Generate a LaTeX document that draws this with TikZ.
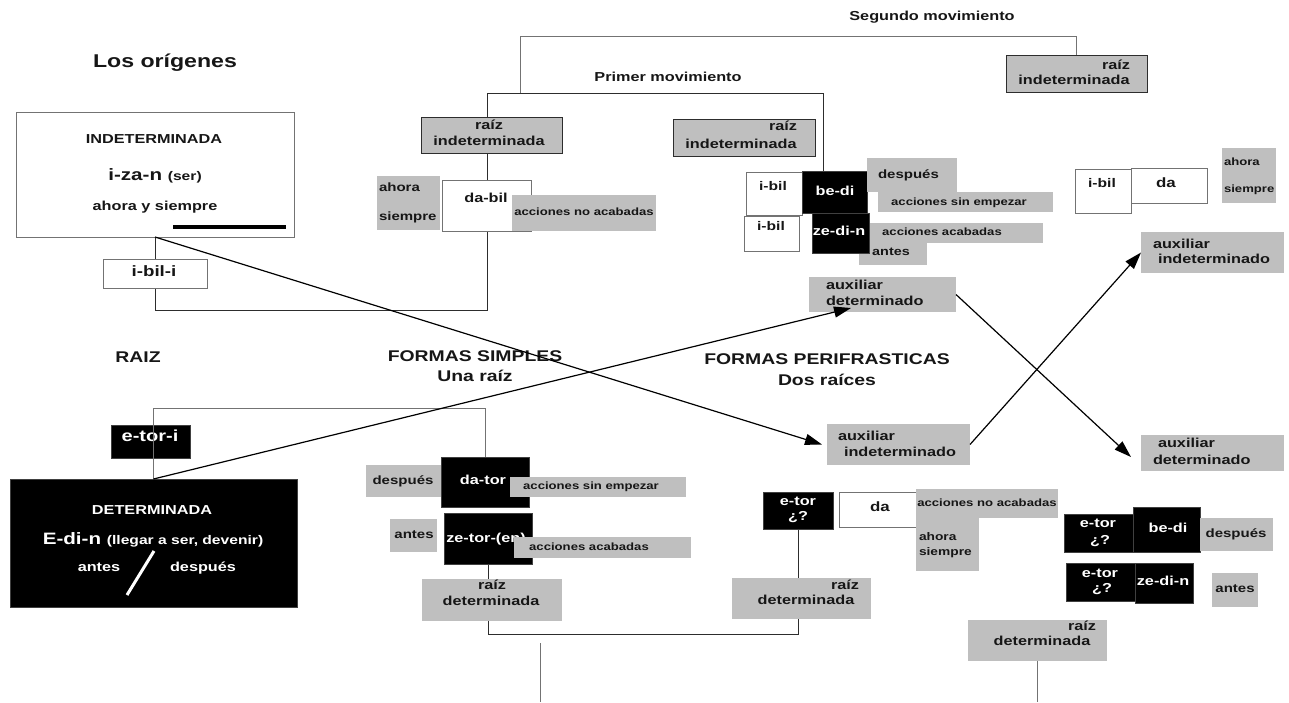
\documentclass[tikz,border=0pt]{standalone}
\usepackage{fontspec}
\setmainfont{Liberation Sans}[FakeStretch=1.25]
\usetikzlibrary{arrows.meta,backgrounds}
\definecolor{boxgray}{RGB}{191,191,191}
\definecolor{ink}{RGB}{22,22,22}
\definecolor{rulec}{RGB}{45,45,45}
\definecolor{soft}{RGB}{115,115,115}
\newcommand\tsz[1]{\fontsize{#1}{#1}\selectfont}
% box from corner (x1,y1) to (x2,y2): \bx{style}{x1}{y1}{x2}{y2}{name}
\newcommand\bx[6]{\node[#1, minimum width={(#4-#2)*1pt}, minimum height={(#5-#3)*1pt}] (#6) at ({(#2+#4)/2},{(#3+#5)/2}) {};}
% text line: \tx[options]{name}{x}{y}{text}
\newcommand\tx[5][]{\node[txt,anchor=mid,#1] (#2) at (#3,#4) {#5};}
\begin{document}
\begin{tikzpicture}[x=1pt,y=-1pt,
  box/.style={rectangle, inner sep=0pt, outer sep=0pt},
  whitebox/.style={box, fill=white, draw=soft, line width=0.9pt},
  graybox/.style={box, fill=boxgray},
  rootbox/.style={box, fill=boxgray, draw=rulec, line width=1pt},
  blackbox/.style={box, fill=black, draw=black!75, line width=0.8pt},
  txt/.style={inner sep=0pt, outer sep=0pt, text=ink, font=\bfseries\tsz{13}},
  wtxt/.style={text=white},
  small/.style={font=\bfseries\tsz{10.5}},
  side/.style={font=\bfseries\tsz{12}},
  head/.style={font=\bfseries\tsz{15.5}},
  link/.style={draw=rulec, line width=0.9pt},
  faint/.style={draw=soft, line width=0.9pt},
  arr/.style={draw=black, line width=1.2pt, -{Triangle[length=17pt,width=11pt]}},
]
\useasboundingbox (0,0) rectangle (1289,702);

% ---------- headings
\tx[font=\bfseries\tsz{18.5}]{title}{165}{65}{Los orígenes}
\tx[head]{raizT}{138}{360}{RAIZ}
\tx{segT}{932}{18}{Segundo movimiento}
\tx{primT}{668}{79}{Primer movimiento}
\tx[head]{fsT}{475}{359}{FORMAS SIMPLES}
\tx[head]{fsT2}{475}{379}{Una raíz}
\tx[head]{fpT}{827}{362}{FORMAS PERIFRASTICAS}
\tx[head]{fpT2}{827}{383}{Dos raíces}

% ---------- the undetermined root
\bx{whitebox}{16}{112}{294}{237}{indet}
\tx{indetT}{154}{141}{INDETERMINADA}
\tx{izan}{155}{178}{\tsz{16.5}i-za-n \tsz{12.5}(ser)}
\tx{indetS}{155}{208}{ahora y siempre}
\draw[line width=3.5pt, black] (173,227) -- (286,227);
\bx{whitebox}{103}{259}{207}{288}{ibili}
\tx[font=\bfseries\tsz{15}]{ibiliT}{154}{274}{i-bil-i}

% ---------- the determined root
\bx{blackbox}{111}{425}{190}{458}{etori}
\tx[wtxt,font=\bfseries\tsz{16}]{etoriT}{150}{439}{e-tor-i}
\bx{blackbox}{10}{479}{297}{607}{detbox}
\tx[wtxt]{detT}{152}{512}{DETERMINADA}
\tx[wtxt]{edin}{153}{542}{\tsz{16.5}E-di-n \tsz{12.5}(llegar a ser, devenir)}
\tx[wtxt]{detA}{99}{569}{antes}
\tx[wtxt]{detD}{203}{569}{después}
\draw[white, line width=3pt] (127,595) -- (154,551);

% ---------- first movement
\bx{rootbox}{421}{117}{562}{153}{ril}
\tx{rilA}{489}{127}{raíz}
\tx{rilB}{489}{143}{indeterminada}
\bx{graybox}{377}{176}{440}{230}{ahs1}
\tx[side,anchor=mid west]{ahs1A}{379}{189}{ahora}
\tx[side,anchor=mid west]{ahs1B}{379}{218}{siempre}
\bx{whitebox}{442}{180}{531}{231}{dabil}
\tx{dabilT}{486}{200}{da-bil}
\bx{graybox}{512}{195}{656}{231}{ana1}
\tx[small]{ana1T}{584}{213}{acciones no acabadas}

\bx{rootbox}{673}{119}{815}{156}{rir}
\tx[anchor=mid east]{rirA}{797}{128}{raíz}
\tx{rirB}{741}{146}{indeterminada}
\bx{graybox}{859}{243}{927}{265}{antes1}
\tx[font=\bfseries\tsz{11.5}]{antes1T}{891}{253}{antes}
\bx{whitebox}{746}{172}{802}{215}{ibil1}
\tx[font=\bfseries\tsz{12.5}]{ibil1T}{773}{188}{i-bil}
\bx{whitebox}{744}{216}{799}{251}{ibil2}
\tx[font=\bfseries\tsz{12.5}]{ibil2T}{771}{228}{i-bil}
\bx{blackbox}{802}{171}{867}{213}{bedi}
\tx[wtxt]{bediT}{835}{193}{be-di}
\bx{blackbox}{812}{213}{869}{253}{zedin}
\tx[wtxt]{zedinT}{839}{233}{ze-di-n}
\bx{graybox}{867}{158}{957}{192}{desp1}
\tx[side,anchor=mid west]{desp1T}{878}{176}{después}
\bx{graybox}{878}{192}{1053}{212}{ase1}
\tx[small]{ase1T}{959}{203}{acciones sin empezar}
\bx{graybox}{870}{223}{1043}{243}{aa1}
\tx[small]{aa1T}{942}{233}{acciones acabadas}

% ---------- second movement
\bx{rootbox}{1006}{55}{1147}{92}{rit}
\tx[anchor=mid east]{ritA}{1130}{67}{raíz}
\tx{ritB}{1074}{82}{indeterminada}
\bx{whitebox}{1075}{169}{1131}{213}{ibil3}
\tx[font=\bfseries\tsz{12.5}]{ibil3T}{1102}{185}{i-bil}
\bx{whitebox}{1131}{168}{1207}{203}{da3}
\tx[font=\bfseries\tsz{13.5}]{da3T}{1166}{185}{da}
\bx{graybox}{1222}{148}{1276}{203}{ahs3}
\tx[small,anchor=mid west]{ahs3A}{1224}{163}{ahora}
\tx[small,anchor=mid west]{ahs3B}{1224}{190}{siempre}

% ---------- auxiliaries
\bx{graybox}{809}{277}{956}{312}{ad1}
\tx[anchor=mid west]{ad1A}{826}{287}{auxiliar}
\tx[anchor=mid west]{ad1B}{826}{303}{determinado}
\bx{graybox}{827}{424}{970}{465}{ai1}
\tx[anchor=mid west]{ai1A}{838}{438}{auxiliar}
\tx[anchor=mid west]{ai1B}{844}{454}{indeterminado}
\bx{graybox}{1141}{232}{1284}{273}{ai2}
\tx[anchor=mid west]{ai2A}{1153}{246}{auxiliar}
\tx[anchor=mid west]{ai2B}{1158}{261}{indeterminado}
\bx{graybox}{1141}{435}{1284}{471}{ad2}
\tx[anchor=mid west]{ad2A}{1158}{445}{auxiliar}
\tx[anchor=mid west]{ad2B}{1153}{462}{determinado}

% ---------- simple forms
\bx{graybox}{366}{465}{441}{497}{desp2}
\tx[side]{desp2T}{403}{482}{después}
\bx{blackbox}{441}{457}{529}{507}{dator}
\tx[wtxt]{datorT}{483}{482}{da-tor}
\bx{graybox}{510}{477}{686}{497}{ase2}
\tx[small]{ase2T}{591}{487}{acciones sin empezar}
\bx{graybox}{390}{519}{437}{552}{antes2}
\tx[side]{antes2T}{414}{536}{antes}
\bx{blackbox}{444}{513}{532}{564}{zetor}
\tx[wtxt]{zetorT}{486}{540}{ze-tor-(en)}
\bx{graybox}{514}{537}{691}{558}{aa2}
\tx[small]{aa2T}{589}{548}{acciones acabadas}
\bx{graybox}{422}{579}{562}{621}{rd1}
\tx{rd1A}{492}{587}{raíz}
\tx{rd1B}{491}{603}{determinada}

% ---------- periphrastic forms
\bx{blackbox}{763}{492}{833}{529}{etor1}
\tx[wtxt]{etor1A}{798}{503}{e-tor}
\tx[wtxt]{etor1B}{798}{518}{¿?}
\bx{whitebox}{839}{492}{917}{527}{da2}
\tx[font=\bfseries\tsz{13.5}]{da2T}{880}{509}{da}
\bx{graybox}{916}{489}{1058}{518}{ana2}
\tx[small]{ana2T}{987}{504}{acciones no acabadas}
\bx{graybox}{916}{518}{979}{571}{ahs2}
\tx[font=\bfseries\tsz{11},anchor=mid west]{ahs2A}{919}{538}{ahora}
\tx[font=\bfseries\tsz{11},anchor=mid west]{ahs2B}{919}{553}{siempre}
\bx{graybox}{732}{578}{871}{619}{rd2}
\tx{rd2A}{845}{587}{raíz}
\tx{rd2B}{806}{602}{determinada}
\bx{graybox}{968}{620}{1107}{661}{rd3}
\tx{rd3A}{1082}{628}{raíz}
\tx{rd3B}{1042}{643}{determinada}

\bx{blackbox}{1064}{514}{1133}{552}{etor2}
\tx[wtxt]{etor2A}{1098}{525}{e-tor}
\tx[wtxt]{etor2B}{1100}{542}{¿?}
\bx{blackbox}{1133}{507}{1200}{552}{bedi2}
\tx[wtxt]{bedi2T}{1168}{530}{be-di}
\bx{graybox}{1200}{518}{1273}{551}{desp3}
\tx[side]{desp3T}{1236}{535}{después}
\bx{blackbox}{1066}{563}{1135}{601}{etor3}
\tx[wtxt]{etor3A}{1100}{575}{e-tor}
\tx[wtxt]{etor3B}{1102}{590}{¿?}
\bx{blackbox}{1135}{563}{1193}{603}{zedin2}
\tx[wtxt]{zedin2T}{1163}{583}{ze-di-n}
\bx{graybox}{1212}{573}{1258}{607}{antes3}
\tx[side]{antes3T}{1235}{590}{antes}

% ---------- frames and connectors behind the boxes
\coordinate (pBL) at (487,310);
\coordinate (pTL) at (487,93);
\coordinate (pTR) at (823,93);
\coordinate (sA) at (520,93);
\coordinate (lTop) at (485,408);
\coordinate (lowTurn) at (487,634);
\coordinate (f1a) at (540,643);
\coordinate (f1b) at (540,702);
\coordinate (f2b) at (1038,702);
\begin{pgfonlayer}{background}
  \draw[link] (indet.south) |- (pBL) -- (pTL) -- (pTR) -- (pTR |- bedi.north);
  \draw[faint] (sA) -- ++(0,-57) -| (rit.north);
  \draw[link] (zetor.south) -- (zetor.south |- lowTurn) -| (etor1.south);
  \draw[faint] (f1a) -- (f1b);
  \draw[faint] (rd3.south) -- (rd3.south |- f2b);
\end{pgfonlayer}
\draw[faint] (detbox.north) |- (lTop) -- (dator.north);

% ---------- arrows
\coordinate (ad1tip) at (851,308);
\coordinate (ad2tip) at (1131,457);
\draw[arr] (indet.south) -- ([xshift=-5pt]ai1.west);
\draw[arr] (detbox.north) -- (ad1tip);
\draw[arr] (ad1.east) -- (ad2tip);
\draw[arr] (ai1.east) -- (ai2.west);
\end{tikzpicture}
\end{document}
